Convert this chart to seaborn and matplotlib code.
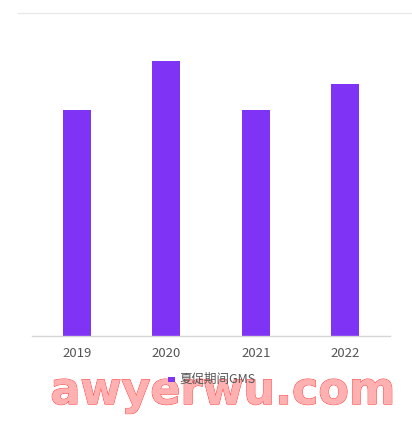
import matplotlib
matplotlib.use("Agg")
import matplotlib.pyplot as plt
import matplotlib.patheffects as pe
from matplotlib.lines import Line2D
from matplotlib.patches import Rectangle
import seaborn as sns
import pandas as pd

years = ["2019", "2020", "2021", "2022"]
gms = [70, 85, 70, 78]
series_name = "夏促期间GMS"
watermark = "awyerwu.com"

sns.set_theme(style="white")
plt.rcParams['font.family'] = ['Noto Sans CJK SC', 'DejaVu Sans']

df = pd.DataFrame({"year": years, "gms": gms})

W, H = 412, 425
fig = plt.figure(figsize=(W / 100, H / 100), dpi=100)
ax = fig.add_axes([32 / W, (H - 336) / H, (390 - 32) / W, (336 - 13) / H])

bar_color = "#7F33F5"
sns.barplot(data=df, x="year", y="gms", color=bar_color, width=0.31,
            saturation=1, ax=ax, linewidth=0)
ax.set_xlim(-0.5, 3.5)
ax.set_ylim(0, 100)
ax.set_xlabel("")
ax.set_ylabel("")
ax.set_yticks([])
for s in ["top", "right", "left"]:
    ax.spines[s].set_visible(False)
ax.spines["bottom"].set_color("#D6D6D6")
ax.spines["bottom"].set_linewidth(1)
ax.tick_params(axis="x", length=0, pad=8, labelsize=9.5, labelcolor="#555555")

# top gridline
fig.add_artist(Line2D([18 / W, 1.0], [(H - 13) / H, (H - 13) / H],
                      color="#E8E8E8", lw=1))

# watermark (under the legend)
fig.text(223 / W, (H - 404) / H, watermark, fontsize=32, fontweight="bold",
         family="DejaVu Sans", color="#FFB0B0", ha="center", va="baseline",
         zorder=1,
         path_effects=[pe.withStroke(linewidth=0.8, foreground="#FF3030"),
                       pe.Normal()])

# legend
fig.add_artist(Rectangle((168 / W, (H - 382) / H), 7 / W, 5 / H,
                         facecolor=bar_color, edgecolor="none", zorder=5))
fig.text(179 / W, (H - 379.5) / H, series_name, fontsize=9, color="#555555",
         va="center", ha="left", zorder=5)

fig.savefig("out.png", dpi=100, facecolor="white")
